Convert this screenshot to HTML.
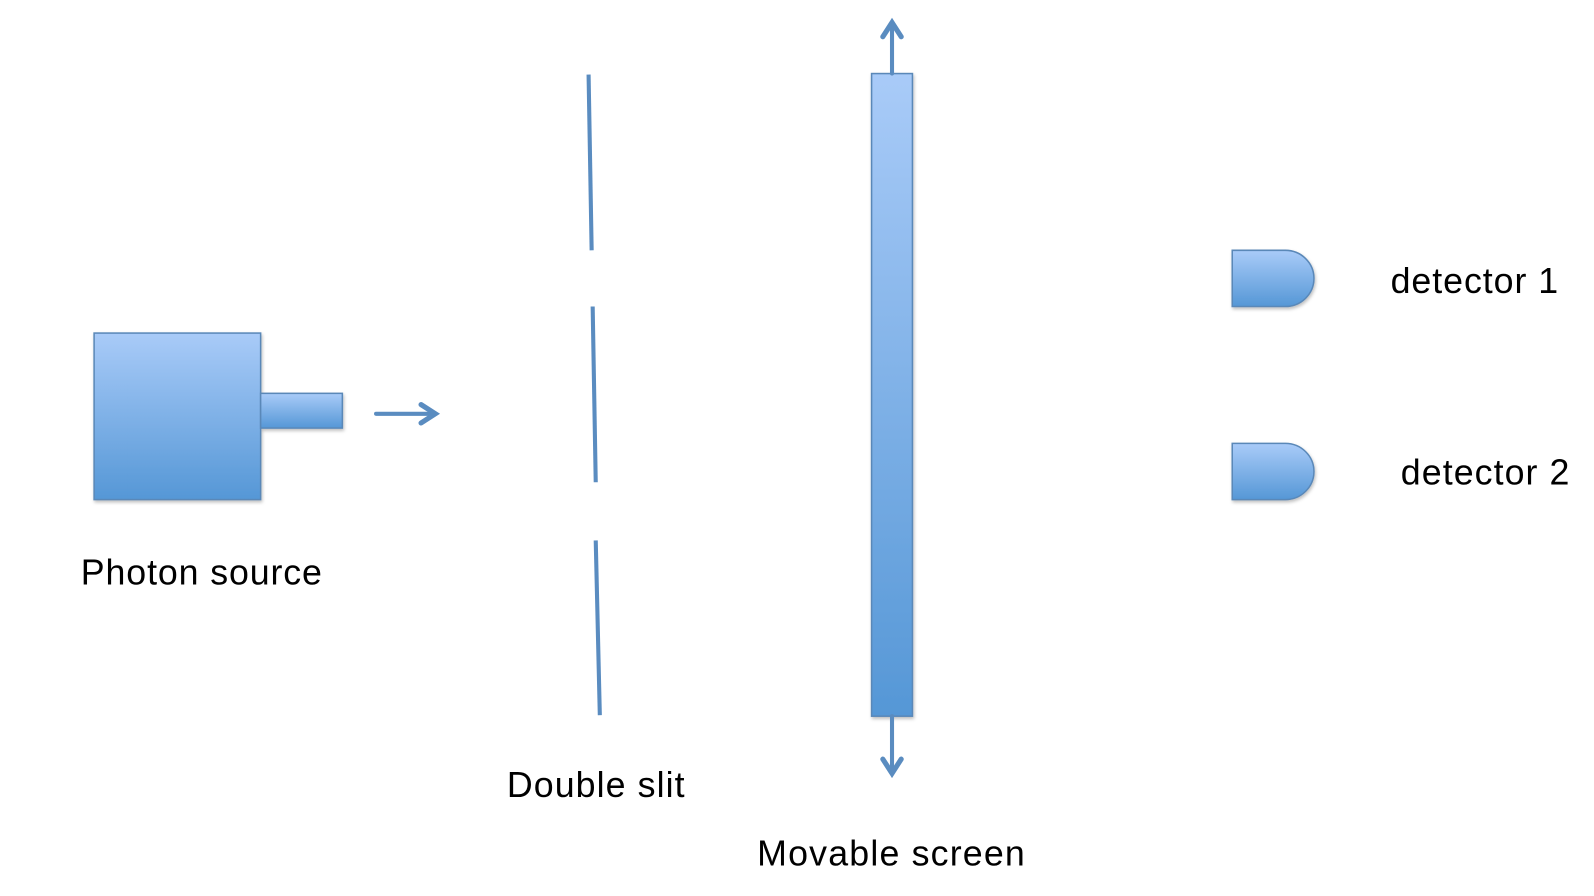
<!DOCTYPE html>
<html><head><meta charset="utf-8"><style>
html,body{margin:0;padding:0;background:#fff;width:1594px;height:896px;overflow:hidden}
svg{display:block}
text{font-family:"Liberation Sans",sans-serif;fill:#000;font-size:35px}
</style></head><body>
<svg width="1594" height="896" viewBox="0 0 1560 877">
<defs>
<linearGradient id="g" x1="0" y1="0" x2="0" y2="1"><stop offset="0" stop-color="#a9cbf8"/><stop offset="1" stop-color="#5597d6"/></linearGradient>
<filter id="sh" x="-10%" y="-10%" width="130%" height="130%"><feDropShadow dx="1" dy="2" stdDeviation="1.5" flood-color="#000" flood-opacity="0.25"/></filter>
</defs>
<g filter="url(#sh)">
<rect x="92" y="326" width="163" height="163" fill="url(#g)" stroke="#5a88b8" stroke-width="1.5"/>
<rect x="255" y="385" width="80" height="34" fill="url(#g)" stroke="#5a88b8" stroke-width="1.5"/>
</g>
<g stroke="#5a8cc0" stroke-width="4" fill="none" stroke-linecap="round">
<line x1="368" y1="405" x2="425" y2="405"/><polyline points="412,396 426,405 412,414" stroke-width="5"/>
</g>
<text x="79" y="572" textLength="236">Photon source</text>
<g stroke="#5a8cc0" stroke-width="4">
<line x1="576" y1="73" x2="579" y2="245"/>
<line x1="580" y1="300" x2="583" y2="472"/>
<line x1="583" y1="529" x2="587" y2="700"/>
</g>
<text x="496" y="780" textLength="174">Double slit</text>
<rect x="853" y="72" width="40" height="629" fill="url(#g)" stroke="#5a88b8" stroke-width="1.5" filter="url(#sh)"/>
<g stroke="#5a8cc0" stroke-width="4" fill="none" stroke-linecap="round">
<line x1="873" y1="72" x2="873" y2="23"/><polyline points="864,36 873,22 882,36" stroke-width="5"/>
<line x1="873" y1="701" x2="873" y2="756"/><polyline points="864,743 873,757 882,743" stroke-width="5"/>
</g>
<text x="741" y="847" textLength="262">Movable screen</text>
<path d="M1206,245 H1258 A28,27.5 0 0 1 1258,300 H1206 Z" fill="url(#g)" stroke="#5a88b8" stroke-width="1.5" filter="url(#sh)"/>
<path d="M1206,434 H1258 A28,27.5 0 0 1 1258,489 H1206 Z" fill="url(#g)" stroke="#5a88b8" stroke-width="1.5" filter="url(#sh)"/>
<text x="1361" y="287" textLength="164">detector 1</text>
<text x="1371" y="474" textLength="165">detector 2</text>
</svg>
</body></html>
